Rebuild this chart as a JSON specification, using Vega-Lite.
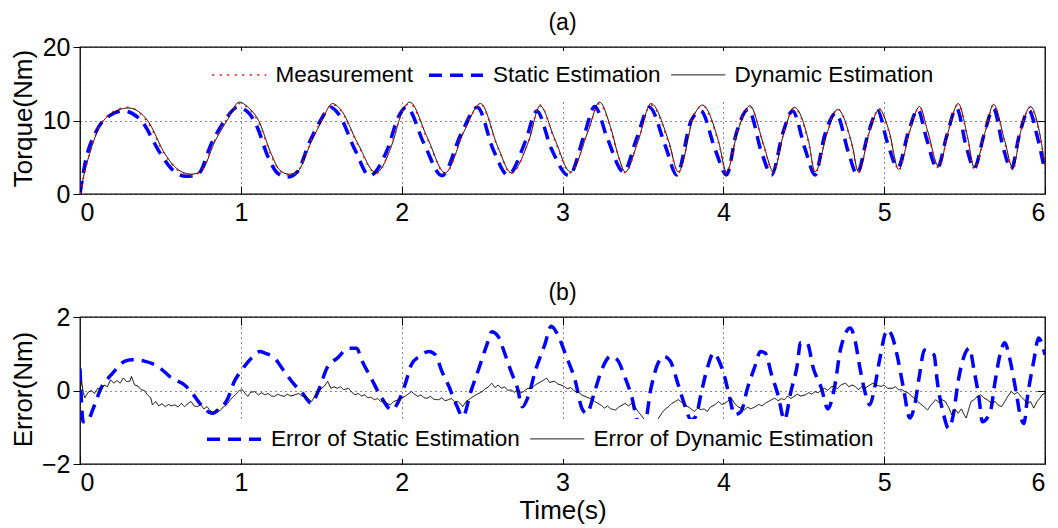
{
 "$schema": "https://vega.github.io/schema/vega-lite/v6.json",
 "background": "white",
 "padding": {"left": 9, "top": 11, "right": 6, "bottom": 2},
 "spacing": 55,
 "config": {
  "font": "Liberation Sans",
  "view": {"stroke": "black", "strokeWidth": 1.3},
  "axis": {"domain": false, "labelFontSize": 25, "titleFontSize": 26, "titleFontWeight": "normal", "labelColor": "black", "titleColor": "black", "tickColor": "black", "gridColor": "black", "gridDash": [1, 4], "gridOpacity": 0.9, "gridWidth": 1},
  "axisX": {"tickSize": -8, "labelPadding": 14},
  "axisY": {"tickSize": 7, "labelPadding": 3},
  "title": {"fontSize": 23, "fontWeight": "normal", "color": "black", "frame": "group"},
  "legend": {"labelFontSize": 22.5, "labelColor": "black", "labelLimit": 500, "symbolType": "M-2.7,0H2.7", "symbolSize": 400, "symbolOffset": 17, "labelOffset": 25, "columnPadding": 8, "fillColor": "white", "direction": "horizontal", "orient": "none", "title": null}
 },
 "resolve": {"scale": {"color": "independent", "strokeDash": "independent", "strokeWidth": "independent"}},
 "datasets": {
  "torque": [
   {"s":"Static Estimation","t":0,"v":0},{"s":"Static Estimation","t":0.03,"v":4.0},{"s":"Static Estimation","t":0.1,"v":8.5},{"s":"Static Estimation","t":0.18,"v":10.6},{"s":"Static Estimation","t":0.27,"v":11.3},{"s":"Static Estimation","t":0.38,"v":10.0},{"s":"Static Estimation","t":0.5,"v":5.5},{"s":"Static Estimation","t":0.58,"v":3.2},{"s":"Static Estimation","t":0.66,"v":2.4},{"s":"Static Estimation","t":0.73,"v":2.6},{"s":"Static Estimation","t":0.82,"v":7.0},{"s":"Static Estimation","t":0.9,"v":10.0},{"s":"Static Estimation","t":0.98,"v":11.8},{"s":"Static Estimation","t":1.05,"v":11.0},{"s":"Static Estimation","t":1.1,"v":9.2},{"s":"Static Estimation","t":1.17,"v":5.0},{"s":"Static Estimation","t":1.23,"v":2.8},{"s":"Static Estimation","t":1.29,"v":2.3},{"s":"Static Estimation","t":1.35,"v":3.0},{"s":"Static Estimation","t":1.43,"v":7.2},{"s":"Static Estimation","t":1.49,"v":9.8},{"s":"Static Estimation","t":1.56,"v":11.8},{"s":"Static Estimation","t":1.61,"v":10.8},{"s":"Static Estimation","t":1.71,"v":6.0},{"s":"Static Estimation","t":1.8,"v":2.5},{"s":"Static Estimation","t":1.91,"v":6.0},{"s":"Static Estimation","t":1.98,"v":10.5},{"s":"Static Estimation","t":2.03,"v":11.8},{"s":"Static Estimation","t":2.14,"v":6.8},{"s":"Static Estimation","t":2.25,"v":2.5},{"s":"Static Estimation","t":2.37,"v":8.2},{"s":"Static Estimation","t":2.47,"v":11.8},{"s":"Static Estimation","t":2.57,"v":6.0},{"s":"Static Estimation","t":2.66,"v":2.6},{"s":"Static Estimation","t":2.77,"v":7.2},{"s":"Static Estimation","t":2.84,"v":11.3},{"s":"Static Estimation","t":2.93,"v":6.2},{"s":"Static Estimation","t":3.04,"v":2.5},{"s":"Static Estimation","t":3.14,"v":8.4},{"s":"Static Estimation","t":3.2,"v":11.9},{"s":"Static Estimation","t":3.28,"v":7.5},{"s":"Static Estimation","t":3.38,"v":3.0},{"s":"Static Estimation","t":3.46,"v":7.5},{"s":"Static Estimation","t":3.54,"v":11.8},{"s":"Static Estimation","t":3.64,"v":6.5},{"s":"Static Estimation","t":3.71,"v":2.6},{"s":"Static Estimation","t":3.8,"v":10.0},{"s":"Static Estimation","t":3.86,"v":11.3},{"s":"Static Estimation","t":3.95,"v":6.0},{"s":"Static Estimation","t":4.02,"v":2.6},{"s":"Static Estimation","t":4.08,"v":8.2},{"s":"Static Estimation","t":4.155,"v":11.5},{"s":"Static Estimation","t":4.24,"v":5.5},{"s":"Static Estimation","t":4.3,"v":2.6},{"s":"Static Estimation","t":4.37,"v":8.3},{"s":"Static Estimation","t":4.43,"v":11.3},{"s":"Static Estimation","t":4.51,"v":6.0},{"s":"Static Estimation","t":4.57,"v":2.6},{"s":"Static Estimation","t":4.63,"v":8.0},{"s":"Static Estimation","t":4.7,"v":11.0},{"s":"Static Estimation","t":4.78,"v":5.5},{"s":"Static Estimation","t":4.83,"v":2.7},{"s":"Static Estimation","t":4.9,"v":8.2},{"s":"Static Estimation","t":4.96,"v":11.3},{"s":"Static Estimation","t":5.02,"v":7.0},{"s":"Static Estimation","t":5.085,"v":3.6},{"s":"Static Estimation","t":5.15,"v":8.4},{"s":"Static Estimation","t":5.21,"v":11.5},{"s":"Static Estimation","t":5.26,"v":7.8},{"s":"Static Estimation","t":5.33,"v":3.5},{"s":"Static Estimation","t":5.39,"v":8.0},{"s":"Static Estimation","t":5.45,"v":11.7},{"s":"Static Estimation","t":5.51,"v":6.5},{"s":"Static Estimation","t":5.56,"v":3.5},{"s":"Static Estimation","t":5.62,"v":8.0},{"s":"Static Estimation","t":5.68,"v":11.6},{"s":"Static Estimation","t":5.74,"v":6.3},{"s":"Static Estimation","t":5.79,"v":3.4},{"s":"Static Estimation","t":5.84,"v":8.0},{"s":"Static Estimation","t":5.9,"v":11.4},{"s":"Static Estimation","t":5.95,"v":8.0},{"s":"Static Estimation","t":6.0,"v":3.0},
   {"s":"Dynamic Estimation","t":0,"v":0},{"s":"Dynamic Estimation","t":0.03,"v":3.1},{"s":"Dynamic Estimation","t":0.06,"v":5.5},{"s":"Dynamic Estimation","t":0.11,"v":8.6},{"s":"Dynamic Estimation","t":0.2,"v":11.0},{"s":"Dynamic Estimation","t":0.3,"v":11.7},{"s":"Dynamic Estimation","t":0.42,"v":10.0},{"s":"Dynamic Estimation","t":0.53,"v":5.4},{"s":"Dynamic Estimation","t":0.6,"v":3.5},{"s":"Dynamic Estimation","t":0.69,"v":2.7},{"s":"Dynamic Estimation","t":0.75,"v":3.0},{"s":"Dynamic Estimation","t":0.84,"v":7.2},{"s":"Dynamic Estimation","t":0.92,"v":10.2},{"s":"Dynamic Estimation","t":0.99,"v":12.5},{"s":"Dynamic Estimation","t":1.04,"v":11.9},{"s":"Dynamic Estimation","t":1.11,"v":10.0},{"s":"Dynamic Estimation","t":1.19,"v":5.4},{"s":"Dynamic Estimation","t":1.24,"v":3.3},{"s":"Dynamic Estimation","t":1.3,"v":2.7},{"s":"Dynamic Estimation","t":1.35,"v":3.0},{"s":"Dynamic Estimation","t":1.44,"v":7.2},{"s":"Dynamic Estimation","t":1.5,"v":9.8},{"s":"Dynamic Estimation","t":1.57,"v":12.3},{"s":"Dynamic Estimation","t":1.62,"v":11.5},{"s":"Dynamic Estimation","t":1.73,"v":6.75},{"s":"Dynamic Estimation","t":1.84,"v":2.9},{"s":"Dynamic Estimation","t":1.94,"v":6.75},{"s":"Dynamic Estimation","t":2.0,"v":11.0},{"s":"Dynamic Estimation","t":2.05,"v":12.5},{"s":"Dynamic Estimation","t":2.16,"v":7.65},{"s":"Dynamic Estimation","t":2.27,"v":2.9},{"s":"Dynamic Estimation","t":2.39,"v":8.6},{"s":"Dynamic Estimation","t":2.49,"v":12.3},{"s":"Dynamic Estimation","t":2.6,"v":6.3},{"s":"Dynamic Estimation","t":2.68,"v":2.9},{"s":"Dynamic Estimation","t":2.79,"v":7.2},{"s":"Dynamic Estimation","t":2.86,"v":12.0},{"s":"Dynamic Estimation","t":2.95,"v":7.6},{"s":"Dynamic Estimation","t":3.05,"v":3.0},{"s":"Dynamic Estimation","t":3.16,"v":8.6},{"s":"Dynamic Estimation","t":3.23,"v":12.5},{"s":"Dynamic Estimation","t":3.3,"v":9.0},{"s":"Dynamic Estimation","t":3.35,"v":5.0},{"s":"Dynamic Estimation","t":3.39,"v":3.0},{"s":"Dynamic Estimation","t":3.47,"v":7.2},{"s":"Dynamic Estimation","t":3.55,"v":12.3},{"s":"Dynamic Estimation","t":3.66,"v":7.2},{"s":"Dynamic Estimation","t":3.72,"v":3.0},{"s":"Dynamic Estimation","t":3.82,"v":10.8},{"s":"Dynamic Estimation","t":3.87,"v":12.1},{"s":"Dynamic Estimation","t":3.97,"v":7.2},{"s":"Dynamic Estimation","t":4.02,"v":3.0},{"s":"Dynamic Estimation","t":4.09,"v":8.6},{"s":"Dynamic Estimation","t":4.165,"v":12.0},{"s":"Dynamic Estimation","t":4.25,"v":6.75},{"s":"Dynamic Estimation","t":4.31,"v":3.1},{"s":"Dynamic Estimation","t":4.38,"v":8.6},{"s":"Dynamic Estimation","t":4.44,"v":11.8},{"s":"Dynamic Estimation","t":4.53,"v":7.2},{"s":"Dynamic Estimation","t":4.57,"v":3.0},{"s":"Dynamic Estimation","t":4.65,"v":8.6},{"s":"Dynamic Estimation","t":4.71,"v":11.5},{"s":"Dynamic Estimation","t":4.8,"v":6.75},{"s":"Dynamic Estimation","t":4.84,"v":3.0},{"s":"Dynamic Estimation","t":4.91,"v":8.6},{"s":"Dynamic Estimation","t":4.97,"v":11.5},{"s":"Dynamic Estimation","t":5.03,"v":8.6},{"s":"Dynamic Estimation","t":5.09,"v":3.35},{"s":"Dynamic Estimation","t":5.16,"v":8.6},{"s":"Dynamic Estimation","t":5.22,"v":11.9},{"s":"Dynamic Estimation","t":5.27,"v":8.6},{"s":"Dynamic Estimation","t":5.34,"v":3.7},{"s":"Dynamic Estimation","t":5.4,"v":8.6},{"s":"Dynamic Estimation","t":5.46,"v":12.3},{"s":"Dynamic Estimation","t":5.52,"v":7.6},{"s":"Dynamic Estimation","t":5.56,"v":3.6},{"s":"Dynamic Estimation","t":5.63,"v":8.6},{"s":"Dynamic Estimation","t":5.68,"v":12.2},{"s":"Dynamic Estimation","t":5.75,"v":7.2},{"s":"Dynamic Estimation","t":5.8,"v":3.5},{"s":"Dynamic Estimation","t":5.85,"v":8.6},{"s":"Dynamic Estimation","t":5.91,"v":11.9},{"s":"Dynamic Estimation","t":5.96,"v":9.0},{"s":"Dynamic Estimation","t":6.0,"v":3.9},
   {"s":"Measurement","t":0,"v":0},{"s":"Measurement","t":0.03,"v":3.0},{"s":"Measurement","t":0.06,"v":5.6},{"s":"Measurement","t":0.11,"v":8.7},{"s":"Measurement","t":0.2,"v":11.1},{"s":"Measurement","t":0.3,"v":11.8},{"s":"Measurement","t":0.42,"v":9.8},{"s":"Measurement","t":0.53,"v":5.3},{"s":"Measurement","t":0.6,"v":3.4},{"s":"Measurement","t":0.68,"v":2.5},{"s":"Measurement","t":0.75,"v":3.0},{"s":"Measurement","t":0.84,"v":7.4},{"s":"Measurement","t":0.92,"v":10.4},{"s":"Measurement","t":0.99,"v":12.3},{"s":"Measurement","t":1.04,"v":11.8},{"s":"Measurement","t":1.11,"v":9.8},{"s":"Measurement","t":1.19,"v":5.2},{"s":"Measurement","t":1.24,"v":3.2},{"s":"Measurement","t":1.3,"v":2.6},{"s":"Measurement","t":1.35,"v":3.0},{"s":"Measurement","t":1.44,"v":7.3},{"s":"Measurement","t":1.5,"v":10.0},{"s":"Measurement","t":1.57,"v":12.2},{"s":"Measurement","t":1.62,"v":11.4},{"s":"Measurement","t":1.73,"v":6.6},{"s":"Measurement","t":1.84,"v":2.8},{"s":"Measurement","t":1.94,"v":6.9},{"s":"Measurement","t":2.0,"v":11.1},{"s":"Measurement","t":2.05,"v":12.3},{"s":"Measurement","t":2.16,"v":7.5},{"s":"Measurement","t":2.27,"v":2.8},{"s":"Measurement","t":2.39,"v":8.7},{"s":"Measurement","t":2.49,"v":12.2},{"s":"Measurement","t":2.6,"v":6.2},{"s":"Measurement","t":2.68,"v":2.8},{"s":"Measurement","t":2.79,"v":7.3},{"s":"Measurement","t":2.86,"v":12.1},{"s":"Measurement","t":2.95,"v":7.4},{"s":"Measurement","t":3.05,"v":2.9},{"s":"Measurement","t":3.16,"v":8.7},{"s":"Measurement","t":3.23,"v":12.3},{"s":"Measurement","t":3.3,"v":8.8},{"s":"Measurement","t":3.35,"v":4.9},{"s":"Measurement","t":3.39,"v":2.9},{"s":"Measurement","t":3.47,"v":7.3},{"s":"Measurement","t":3.55,"v":12.1},{"s":"Measurement","t":3.66,"v":7.0},{"s":"Measurement","t":3.72,"v":2.9},{"s":"Measurement","t":3.82,"v":10.9},{"s":"Measurement","t":3.87,"v":12.0},{"s":"Measurement","t":3.97,"v":7.0},{"s":"Measurement","t":4.02,"v":2.9},{"s":"Measurement","t":4.09,"v":8.7},{"s":"Measurement","t":4.165,"v":11.9},{"s":"Measurement","t":4.25,"v":6.6},{"s":"Measurement","t":4.31,"v":3.0},{"s":"Measurement","t":4.38,"v":8.7},{"s":"Measurement","t":4.44,"v":11.7},{"s":"Measurement","t":4.53,"v":7.0},{"s":"Measurement","t":4.57,"v":2.9},{"s":"Measurement","t":4.65,"v":8.7},{"s":"Measurement","t":4.71,"v":11.6},{"s":"Measurement","t":4.8,"v":6.6},{"s":"Measurement","t":4.84,"v":2.9},{"s":"Measurement","t":4.91,"v":8.7},{"s":"Measurement","t":4.97,"v":11.6},{"s":"Measurement","t":5.03,"v":8.4},{"s":"Measurement","t":5.09,"v":3.2},{"s":"Measurement","t":5.16,"v":8.7},{"s":"Measurement","t":5.22,"v":11.8},{"s":"Measurement","t":5.27,"v":8.4},{"s":"Measurement","t":5.34,"v":3.5},{"s":"Measurement","t":5.4,"v":8.7},{"s":"Measurement","t":5.46,"v":12.2},{"s":"Measurement","t":5.52,"v":7.4},{"s":"Measurement","t":5.56,"v":3.4},{"s":"Measurement","t":5.63,"v":8.7},{"s":"Measurement","t":5.68,"v":12.1},{"s":"Measurement","t":5.75,"v":7.0},{"s":"Measurement","t":5.8,"v":3.3},{"s":"Measurement","t":5.85,"v":8.7},{"s":"Measurement","t":5.91,"v":11.8},{"s":"Measurement","t":5.96,"v":8.8},{"s":"Measurement","t":6.0,"v":3.8}
  ],
  "error": [
   {"s":"Error of Static Estimation","t":0,"v":0.6},{"s":"Error of Static Estimation","t":0.02,"v":-0.85},{"s":"Error of Static Estimation","t":0.04,"v":-0.85},{"s":"Error of Static Estimation","t":0.09,"v":-0.4},{"s":"Error of Static Estimation","t":0.13,"v":0.06},{"s":"Error of Static Estimation","t":0.195,"v":0.43},{"s":"Error of Static Estimation","t":0.28,"v":0.8},{"s":"Error of Static Estimation","t":0.32,"v":0.84},{"s":"Error of Static Estimation","t":0.4,"v":0.8},{"s":"Error of Static Estimation","t":0.485,"v":0.65},{"s":"Error of Static Estimation","t":0.57,"v":0.34},{"s":"Error of Static Estimation","t":0.65,"v":0.15},{"s":"Error of Static Estimation","t":0.69,"v":-0.03},{"s":"Error of Static Estimation","t":0.755,"v":-0.4},{"s":"Error of Static Estimation","t":0.82,"v":-0.62},{"s":"Error of Static Estimation","t":0.86,"v":-0.53},{"s":"Error of Static Estimation","t":0.92,"v":-0.21},{"s":"Error of Static Estimation","t":0.96,"v":0.25},{"s":"Error of Static Estimation","t":1.0,"v":0.52},{"s":"Error of Static Estimation","t":1.065,"v":0.88},{"s":"Error of Static Estimation","t":1.12,"v":1.06},{"s":"Error of Static Estimation","t":1.15,"v":1.02},{"s":"Error of Static Estimation","t":1.21,"v":0.88},{"s":"Error of Static Estimation","t":1.27,"v":0.52},{"s":"Error of Static Estimation","t":1.335,"v":0.15},{"s":"Error of Static Estimation","t":1.376,"v":-0.03},{"s":"Error of Static Estimation","t":1.44,"v":-0.35},{"s":"Error of Static Estimation","t":1.48,"v":-0.03},{"s":"Error of Static Estimation","t":1.54,"v":0.65},{"s":"Error of Static Estimation","t":1.6,"v":0.88},{"s":"Error of Static Estimation","t":1.67,"v":1.15},{"s":"Error of Static Estimation","t":1.72,"v":1.15},{"s":"Error of Static Estimation","t":1.75,"v":0.84},{"s":"Error of Static Estimation","t":1.81,"v":0.34},{"s":"Error of Static Estimation","t":1.87,"v":-0.16},{"s":"Error of Static Estimation","t":1.94,"v":-0.53},{"s":"Error of Static Estimation","t":1.98,"v":-0.3},{"s":"Error of Static Estimation","t":2.02,"v":0.15},{"s":"Error of Static Estimation","t":2.06,"v":0.7},{"s":"Error of Static Estimation","t":2.11,"v":0.93},{"s":"Error of Static Estimation","t":2.17,"v":1.06},{"s":"Error of Static Estimation","t":2.21,"v":0.97},{"s":"Error of Static Estimation","t":2.25,"v":0.52},{"s":"Error of Static Estimation","t":2.29,"v":0.15},{"s":"Error of Static Estimation","t":2.34,"v":-0.39},{"s":"Error of Static Estimation","t":2.38,"v":-0.71},{"s":"Error of Static Estimation","t":2.43,"v":-0.03},{"s":"Error of Static Estimation","t":2.48,"v":0.6},{"s":"Error of Static Estimation","t":2.53,"v":1.25},{"s":"Error of Static Estimation","t":2.56,"v":1.6},{"s":"Error of Static Estimation","t":2.6,"v":1.47},{"s":"Error of Static Estimation","t":2.64,"v":1.02},{"s":"Error of Static Estimation","t":2.68,"v":0.52},{"s":"Error of Static Estimation","t":2.72,"v":0.06},{"s":"Error of Static Estimation","t":2.75,"v":-0.44},{"s":"Error of Static Estimation","t":2.79,"v":-0.12},{"s":"Error of Static Estimation","t":2.83,"v":0.52},{"s":"Error of Static Estimation","t":2.89,"v":1.25},{"s":"Error of Static Estimation","t":2.93,"v":1.75},{"s":"Error of Static Estimation","t":2.97,"v":1.52},{"s":"Error of Static Estimation","t":3.02,"v":0.97},{"s":"Error of Static Estimation","t":3.08,"v":0.25},{"s":"Error of Static Estimation","t":3.12,"v":-0.48},{"s":"Error of Static Estimation","t":3.15,"v":-0.62},{"s":"Error of Static Estimation","t":3.2,"v":-0.03},{"s":"Error of Static Estimation","t":3.24,"v":0.52},{"s":"Error of Static Estimation","t":3.3,"v":0.93},{"s":"Error of Static Estimation","t":3.34,"v":0.84},{"s":"Error of Static Estimation","t":3.39,"v":0.34},{"s":"Error of Static Estimation","t":3.43,"v":-0.16},{"s":"Error of Static Estimation","t":3.47,"v":-0.85},{"s":"Error of Static Estimation","t":3.51,"v":-0.9},{"s":"Error of Static Estimation","t":3.55,"v":0.06},{"s":"Error of Static Estimation","t":3.59,"v":0.7},{"s":"Error of Static Estimation","t":3.63,"v":0.93},{"s":"Error of Static Estimation","t":3.67,"v":0.8},{"s":"Error of Static Estimation","t":3.72,"v":0.15},{"s":"Error of Static Estimation","t":3.76,"v":-0.4},{"s":"Error of Static Estimation","t":3.8,"v":-0.8},{"s":"Error of Static Estimation","t":3.83,"v":-0.7},{"s":"Error of Static Estimation","t":3.86,"v":-0.12},{"s":"Error of Static Estimation","t":3.9,"v":0.6},{"s":"Error of Static Estimation","t":3.94,"v":1.02},{"s":"Error of Static Estimation","t":3.97,"v":0.84},{"s":"Error of Static Estimation","t":4.01,"v":0.34},{"s":"Error of Static Estimation","t":4.04,"v":-0.21},{"s":"Error of Static Estimation","t":4.07,"v":-0.66},{"s":"Error of Static Estimation","t":4.11,"v":-0.57},{"s":"Error of Static Estimation","t":4.15,"v":0.06},{"s":"Error of Static Estimation","t":4.2,"v":0.7},{"s":"Error of Static Estimation","t":4.23,"v":1.06},{"s":"Error of Static Estimation","t":4.26,"v":1.02},{"s":"Error of Static Estimation","t":4.3,"v":0.43},{"s":"Error of Static Estimation","t":4.34,"v":-0.12},{"s":"Error of Static Estimation","t":4.38,"v":-0.8},{"s":"Error of Static Estimation","t":4.42,"v":-0.03},{"s":"Error of Static Estimation","t":4.46,"v":0.7},{"s":"Error of Static Estimation","t":4.48,"v":1.3},{"s":"Error of Static Estimation","t":4.52,"v":1.3},{"s":"Error of Static Estimation","t":4.56,"v":0.6},{"s":"Error of Static Estimation","t":4.61,"v":0.06},{"s":"Error of Static Estimation","t":4.65,"v":-0.5},{"s":"Error of Static Estimation","t":4.69,"v":0.06},{"s":"Error of Static Estimation","t":4.73,"v":1.15},{"s":"Error of Static Estimation","t":4.79,"v":1.7},{"s":"Error of Static Estimation","t":4.82,"v":1.34},{"s":"Error of Static Estimation","t":4.85,"v":0.6},{"s":"Error of Static Estimation","t":4.88,"v":-0.03},{"s":"Error of Static Estimation","t":4.91,"v":-0.39},{"s":"Error of Static Estimation","t":4.94,"v":0.06},{"s":"Error of Static Estimation","t":4.97,"v":0.8},{"s":"Error of Static Estimation","t":5.02,"v":1.65},{"s":"Error of Static Estimation","t":5.05,"v":1.47},{"s":"Error of Static Estimation","t":5.08,"v":0.97},{"s":"Error of Static Estimation","t":5.12,"v":0.06},{"s":"Error of Static Estimation","t":5.16,"v":-0.75},{"s":"Error of Static Estimation","t":5.19,"v":-0.39},{"s":"Error of Static Estimation","t":5.22,"v":0.43},{"s":"Error of Static Estimation","t":5.25,"v":1.1},{"s":"Error of Static Estimation","t":5.31,"v":0.97},{"s":"Error of Static Estimation","t":5.33,"v":0.25},{"s":"Error of Static Estimation","t":5.37,"v":-0.66},{"s":"Error of Static Estimation","t":5.4,"v":-1.03},{"s":"Error of Static Estimation","t":5.43,"v":-0.66},{"s":"Error of Static Estimation","t":5.46,"v":0.25},{"s":"Error of Static Estimation","t":5.5,"v":0.97},{"s":"Error of Static Estimation","t":5.53,"v":1.15},{"s":"Error of Static Estimation","t":5.56,"v":0.52},{"s":"Error of Static Estimation","t":5.59,"v":-0.21},{"s":"Error of Static Estimation","t":5.61,"v":-0.85},{"s":"Error of Static Estimation","t":5.66,"v":-0.57},{"s":"Error of Static Estimation","t":5.69,"v":0.25},{"s":"Error of Static Estimation","t":5.72,"v":0.97},{"s":"Error of Static Estimation","t":5.75,"v":1.3},{"s":"Error of Static Estimation","t":5.78,"v":0.88},{"s":"Error of Static Estimation","t":5.82,"v":-0.03},{"s":"Error of Static Estimation","t":5.85,"v":-0.75},{"s":"Error of Static Estimation","t":5.87,"v":-0.9},{"s":"Error of Static Estimation","t":5.89,"v":-0.21},{"s":"Error of Static Estimation","t":5.93,"v":0.8},{"s":"Error of Static Estimation","t":5.96,"v":1.43},{"s":"Error of Static Estimation","t":6.0,"v":0.97},
   {"s":"Error of Dynamic Estimation","t":0,"v":0},{"s":"Error of Dynamic Estimation","t":0.01,"v":0.25},{"s":"Error of Dynamic Estimation","t":0.02,"v":-0.05},{"s":"Error of Dynamic Estimation","t":0.03,"v":-0.2},{"s":"Error of Dynamic Estimation","t":0.05,"v":-0.05},{"s":"Error of Dynamic Estimation","t":0.07,"v":0},{"s":"Error of Dynamic Estimation","t":0.09,"v":-0.08},{"s":"Error of Dynamic Estimation","t":0.11,"v":0.06},{"s":"Error of Dynamic Estimation","t":0.13,"v":0.02},{"s":"Error of Dynamic Estimation","t":0.15,"v":0.15},{"s":"Error of Dynamic Estimation","t":0.17,"v":0.1},{"s":"Error of Dynamic Estimation","t":0.19,"v":0.29},{"s":"Error of Dynamic Estimation","t":0.21,"v":0.2},{"s":"Error of Dynamic Estimation","t":0.23,"v":0.27},{"s":"Error of Dynamic Estimation","t":0.25,"v":0.2},{"s":"Error of Dynamic Estimation","t":0.27,"v":0.34},{"s":"Error of Dynamic Estimation","t":0.29,"v":0.24},{"s":"Error of Dynamic Estimation","t":0.31,"v":0.25},{"s":"Error of Dynamic Estimation","t":0.32,"v":0.38},{"s":"Error of Dynamic Estimation","t":0.34,"v":0.15},{"s":"Error of Dynamic Estimation","t":0.36,"v":0.12},{"s":"Error of Dynamic Estimation","t":0.38,"v":0.02},{"s":"Error of Dynamic Estimation","t":0.4,"v":0},{"s":"Error of Dynamic Estimation","t":0.42,"v":-0.12},{"s":"Error of Dynamic Estimation","t":0.44,"v":-0.2},{"s":"Error of Dynamic Estimation","t":0.45,"v":-0.39},{"s":"Error of Dynamic Estimation","t":0.47,"v":-0.3},{"s":"Error of Dynamic Estimation","t":0.49,"v":-0.42},{"s":"Error of Dynamic Estimation","t":0.51,"v":-0.36},{"s":"Error of Dynamic Estimation","t":0.53,"v":-0.44},{"s":"Error of Dynamic Estimation","t":0.55,"v":-0.38},{"s":"Error of Dynamic Estimation","t":0.57,"v":-0.42},{"s":"Error of Dynamic Estimation","t":0.59,"v":-0.39},{"s":"Error of Dynamic Estimation","t":0.61,"v":-0.45},{"s":"Error of Dynamic Estimation","t":0.63,"v":-0.35},{"s":"Error of Dynamic Estimation","t":0.65,"v":-0.44},{"s":"Error of Dynamic Estimation","t":0.67,"v":-0.36},{"s":"Error of Dynamic Estimation","t":0.69,"v":-0.3},{"s":"Error of Dynamic Estimation","t":0.71,"v":-0.42},{"s":"Error of Dynamic Estimation","t":0.73,"v":-0.44},{"s":"Error of Dynamic Estimation","t":0.75,"v":-0.38},{"s":"Error of Dynamic Estimation","t":0.77,"v":-0.5},{"s":"Error of Dynamic Estimation","t":0.79,"v":-0.44},{"s":"Error of Dynamic Estimation","t":0.81,"v":-0.55},{"s":"Error of Dynamic Estimation","t":0.83,"v":-0.6},{"s":"Error of Dynamic Estimation","t":0.85,"v":-0.5},{"s":"Error of Dynamic Estimation","t":0.87,"v":-0.55},{"s":"Error of Dynamic Estimation","t":0.89,"v":-0.45},{"s":"Error of Dynamic Estimation","t":0.91,"v":-0.4},{"s":"Error of Dynamic Estimation","t":0.93,"v":-0.28},{"s":"Error of Dynamic Estimation","t":0.95,"v":-0.18},{"s":"Error of Dynamic Estimation","t":0.97,"v":-0.1},{"s":"Error of Dynamic Estimation","t":0.99,"v":0},{"s":"Error of Dynamic Estimation","t":1.01,"v":0.02},{"s":"Error of Dynamic Estimation","t":1.03,"v":-0.1},{"s":"Error of Dynamic Estimation","t":1.045,"v":-0.16},{"s":"Error of Dynamic Estimation","t":1.06,"v":-0.05},{"s":"Error of Dynamic Estimation","t":1.086,"v":-0.03},{"s":"Error of Dynamic Estimation","t":1.11,"v":-0.12},{"s":"Error of Dynamic Estimation","t":1.13,"v":-0.06},{"s":"Error of Dynamic Estimation","t":1.15,"v":-0.12},{"s":"Error of Dynamic Estimation","t":1.17,"v":-0.08},{"s":"Error of Dynamic Estimation","t":1.19,"v":-0.15},{"s":"Error of Dynamic Estimation","t":1.21,"v":-0.16},{"s":"Error of Dynamic Estimation","t":1.23,"v":-0.1},{"s":"Error of Dynamic Estimation","t":1.25,"v":-0.14},{"s":"Error of Dynamic Estimation","t":1.27,"v":-0.16},{"s":"Error of Dynamic Estimation","t":1.29,"v":-0.1},{"s":"Error of Dynamic Estimation","t":1.31,"v":-0.15},{"s":"Error of Dynamic Estimation","t":1.335,"v":-0.12},{"s":"Error of Dynamic Estimation","t":1.36,"v":-0.08},{"s":"Error of Dynamic Estimation","t":1.38,"v":-0.15},{"s":"Error of Dynamic Estimation","t":1.4,"v":-0.16},{"s":"Error of Dynamic Estimation","t":1.42,"v":-0.22},{"s":"Error of Dynamic Estimation","t":1.44,"v":-0.3},{"s":"Error of Dynamic Estimation","t":1.46,"v":-0.15},{"s":"Error of Dynamic Estimation","t":1.48,"v":-0.03},{"s":"Error of Dynamic Estimation","t":1.5,"v":0.05},{"s":"Error of Dynamic Estimation","t":1.52,"v":0.12},{"s":"Error of Dynamic Estimation","t":1.54,"v":0.25},{"s":"Error of Dynamic Estimation","t":1.56,"v":0.06},{"s":"Error of Dynamic Estimation","t":1.58,"v":0.1},{"s":"Error of Dynamic Estimation","t":1.6,"v":0.06},{"s":"Error of Dynamic Estimation","t":1.62,"v":0.1},{"s":"Error of Dynamic Estimation","t":1.64,"v":0.02},{"s":"Error of Dynamic Estimation","t":1.67,"v":0.06},{"s":"Error of Dynamic Estimation","t":1.69,"v":-0.05},{"s":"Error of Dynamic Estimation","t":1.71,"v":-0.12},{"s":"Error of Dynamic Estimation","t":1.73,"v":-0.08},{"s":"Error of Dynamic Estimation","t":1.75,"v":-0.15},{"s":"Error of Dynamic Estimation","t":1.77,"v":-0.12},{"s":"Error of Dynamic Estimation","t":1.79,"v":-0.2},{"s":"Error of Dynamic Estimation","t":1.81,"v":-0.18},{"s":"Error of Dynamic Estimation","t":1.83,"v":-0.25},{"s":"Error of Dynamic Estimation","t":1.85,"v":-0.22},{"s":"Error of Dynamic Estimation","t":1.87,"v":-0.3},{"s":"Error of Dynamic Estimation","t":1.89,"v":-0.26},{"s":"Error of Dynamic Estimation","t":1.91,"v":-0.35},{"s":"Error of Dynamic Estimation","t":1.93,"v":-0.39},{"s":"Error of Dynamic Estimation","t":1.95,"v":-0.3},{"s":"Error of Dynamic Estimation","t":1.98,"v":-0.25},{"s":"Error of Dynamic Estimation","t":2.0,"v":-0.2},{"s":"Error of Dynamic Estimation","t":2.02,"v":-0.16},{"s":"Error of Dynamic Estimation","t":2.04,"v":-0.1},{"s":"Error of Dynamic Estimation","t":2.06,"v":-0.03},{"s":"Error of Dynamic Estimation","t":2.08,"v":-0.1},{"s":"Error of Dynamic Estimation","t":2.1,"v":-0.16},{"s":"Error of Dynamic Estimation","t":2.12,"v":-0.12},{"s":"Error of Dynamic Estimation","t":2.14,"v":-0.2},{"s":"Error of Dynamic Estimation","t":2.16,"v":-0.21},{"s":"Error of Dynamic Estimation","t":2.18,"v":-0.16},{"s":"Error of Dynamic Estimation","t":2.2,"v":-0.24},{"s":"Error of Dynamic Estimation","t":2.23,"v":-0.25},{"s":"Error of Dynamic Estimation","t":2.25,"v":-0.2},{"s":"Error of Dynamic Estimation","t":2.27,"v":-0.28},{"s":"Error of Dynamic Estimation","t":2.29,"v":-0.25},{"s":"Error of Dynamic Estimation","t":2.31,"v":-0.22},{"s":"Error of Dynamic Estimation","t":2.33,"v":-0.3},{"s":"Error of Dynamic Estimation","t":2.35,"v":-0.3},{"s":"Error of Dynamic Estimation","t":2.37,"v":-0.38},{"s":"Error of Dynamic Estimation","t":2.38,"v":-0.44},{"s":"Error of Dynamic Estimation","t":2.4,"v":-0.3},{"s":"Error of Dynamic Estimation","t":2.43,"v":-0.21},{"s":"Error of Dynamic Estimation","t":2.45,"v":-0.15},{"s":"Error of Dynamic Estimation","t":2.47,"v":-0.1},{"s":"Error of Dynamic Estimation","t":2.5,"v":-0.03},{"s":"Error of Dynamic Estimation","t":2.52,"v":0.05},{"s":"Error of Dynamic Estimation","t":2.54,"v":0.1},{"s":"Error of Dynamic Estimation","t":2.56,"v":0.2},{"s":"Error of Dynamic Estimation","t":2.58,"v":0.08},{"s":"Error of Dynamic Estimation","t":2.6,"v":0.15},{"s":"Error of Dynamic Estimation","t":2.62,"v":0.06},{"s":"Error of Dynamic Estimation","t":2.64,"v":0.1},{"s":"Error of Dynamic Estimation","t":2.66,"v":0},{"s":"Error of Dynamic Estimation","t":2.68,"v":0.02},{"s":"Error of Dynamic Estimation","t":2.7,"v":-0.05},{"s":"Error of Dynamic Estimation","t":2.72,"v":0.02},{"s":"Error of Dynamic Estimation","t":2.74,"v":-0.07},{"s":"Error of Dynamic Estimation","t":2.76,"v":-0.02},{"s":"Error of Dynamic Estimation","t":2.78,"v":0.05},{"s":"Error of Dynamic Estimation","t":2.81,"v":0.06},{"s":"Error of Dynamic Estimation","t":2.83,"v":0.15},{"s":"Error of Dynamic Estimation","t":2.85,"v":0.2},{"s":"Error of Dynamic Estimation","t":2.87,"v":0.25},{"s":"Error of Dynamic Estimation","t":2.89,"v":0.3},{"s":"Error of Dynamic Estimation","t":2.9,"v":0.34},{"s":"Error of Dynamic Estimation","t":2.92,"v":0.22},{"s":"Error of Dynamic Estimation","t":2.95,"v":0.25},{"s":"Error of Dynamic Estimation","t":2.97,"v":0.18},{"s":"Error of Dynamic Estimation","t":2.99,"v":0.15},{"s":"Error of Dynamic Estimation","t":3.01,"v":0.11},{"s":"Error of Dynamic Estimation","t":3.03,"v":0.05},{"s":"Error of Dynamic Estimation","t":3.05,"v":0.08},{"s":"Error of Dynamic Estimation","t":3.08,"v":-0.03},{"s":"Error of Dynamic Estimation","t":3.1,"v":-0.05},{"s":"Error of Dynamic Estimation","t":3.12,"v":-0.12},{"s":"Error of Dynamic Estimation","t":3.14,"v":-0.16},{"s":"Error of Dynamic Estimation","t":3.16,"v":-0.2},{"s":"Error of Dynamic Estimation","t":3.18,"v":-0.22},{"s":"Error of Dynamic Estimation","t":3.2,"v":-0.3},{"s":"Error of Dynamic Estimation","t":3.22,"v":-0.35},{"s":"Error of Dynamic Estimation","t":3.24,"v":-0.4},{"s":"Error of Dynamic Estimation","t":3.26,"v":-0.48},{"s":"Error of Dynamic Estimation","t":3.28,"v":-0.42},{"s":"Error of Dynamic Estimation","t":3.3,"v":-0.5},{"s":"Error of Dynamic Estimation","t":3.33,"v":-0.53},{"s":"Error of Dynamic Estimation","t":3.35,"v":-0.45},{"s":"Error of Dynamic Estimation","t":3.37,"v":-0.4},{"s":"Error of Dynamic Estimation","t":3.39,"v":-0.35},{"s":"Error of Dynamic Estimation","t":3.41,"v":-0.42},{"s":"Error of Dynamic Estimation","t":3.43,"v":-0.35},{"s":"Error of Dynamic Estimation","t":3.45,"v":-0.45},{"s":"Error of Dynamic Estimation","t":3.47,"v":-0.57},{"s":"Error of Dynamic Estimation","t":3.49,"v":-0.68},{"s":"Error of Dynamic Estimation","t":3.51,"v":-0.8},{"s":"Error of Dynamic Estimation","t":3.55,"v":-0.85},{"s":"Error of Dynamic Estimation","t":3.59,"v":-0.8},{"s":"Error of Dynamic Estimation","t":3.62,"v":-0.6},{"s":"Error of Dynamic Estimation","t":3.64,"v":-0.5},{"s":"Error of Dynamic Estimation","t":3.66,"v":-0.44},{"s":"Error of Dynamic Estimation","t":3.68,"v":-0.35},{"s":"Error of Dynamic Estimation","t":3.7,"v":-0.3},{"s":"Error of Dynamic Estimation","t":3.72,"v":-0.25},{"s":"Error of Dynamic Estimation","t":3.74,"v":-0.32},{"s":"Error of Dynamic Estimation","t":3.76,"v":-0.39},{"s":"Error of Dynamic Estimation","t":3.78,"v":-0.44},{"s":"Error of Dynamic Estimation","t":3.8,"v":-0.5},{"s":"Error of Dynamic Estimation","t":3.82,"v":-0.57},{"s":"Error of Dynamic Estimation","t":3.84,"v":-0.48},{"s":"Error of Dynamic Estimation","t":3.86,"v":-0.52},{"s":"Error of Dynamic Estimation","t":3.88,"v":-0.5},{"s":"Error of Dynamic Estimation","t":3.9,"v":-0.57},{"s":"Error of Dynamic Estimation","t":3.92,"v":-0.45},{"s":"Error of Dynamic Estimation","t":3.95,"v":-0.38},{"s":"Error of Dynamic Estimation","t":3.97,"v":-0.3},{"s":"Error of Dynamic Estimation","t":3.99,"v":-0.38},{"s":"Error of Dynamic Estimation","t":4.01,"v":-0.35},{"s":"Error of Dynamic Estimation","t":4.03,"v":-0.28},{"s":"Error of Dynamic Estimation","t":4.05,"v":-0.21},{"s":"Error of Dynamic Estimation","t":4.07,"v":-0.35},{"s":"Error of Dynamic Estimation","t":4.09,"v":-0.44},{"s":"Error of Dynamic Estimation","t":4.11,"v":-0.48},{"s":"Error of Dynamic Estimation","t":4.13,"v":-0.53},{"s":"Error of Dynamic Estimation","t":4.15,"v":-0.45},{"s":"Error of Dynamic Estimation","t":4.17,"v":-0.5},{"s":"Error of Dynamic Estimation","t":4.2,"v":-0.44},{"s":"Error of Dynamic Estimation","t":4.22,"v":-0.38},{"s":"Error of Dynamic Estimation","t":4.24,"v":-0.42},{"s":"Error of Dynamic Estimation","t":4.26,"v":-0.35},{"s":"Error of Dynamic Estimation","t":4.28,"v":-0.3},{"s":"Error of Dynamic Estimation","t":4.3,"v":-0.25},{"s":"Error of Dynamic Estimation","t":4.32,"v":-0.21},{"s":"Error of Dynamic Estimation","t":4.34,"v":-0.28},{"s":"Error of Dynamic Estimation","t":4.36,"v":-0.22},{"s":"Error of Dynamic Estimation","t":4.38,"v":-0.25},{"s":"Error of Dynamic Estimation","t":4.4,"v":-0.15},{"s":"Error of Dynamic Estimation","t":4.42,"v":-0.22},{"s":"Error of Dynamic Estimation","t":4.44,"v":-0.16},{"s":"Error of Dynamic Estimation","t":4.46,"v":-0.1},{"s":"Error of Dynamic Estimation","t":4.48,"v":-0.15},{"s":"Error of Dynamic Estimation","t":4.51,"v":-0.12},{"s":"Error of Dynamic Estimation","t":4.53,"v":-0.06},{"s":"Error of Dynamic Estimation","t":4.55,"v":-0.1},{"s":"Error of Dynamic Estimation","t":4.57,"v":-0.03},{"s":"Error of Dynamic Estimation","t":4.59,"v":-0.06},{"s":"Error of Dynamic Estimation","t":4.61,"v":0.02},{"s":"Error of Dynamic Estimation","t":4.63,"v":0.06},{"s":"Error of Dynamic Estimation","t":4.65,"v":0},{"s":"Error of Dynamic Estimation","t":4.67,"v":0.1},{"s":"Error of Dynamic Estimation","t":4.69,"v":0.11},{"s":"Error of Dynamic Estimation","t":4.71,"v":0.05},{"s":"Error of Dynamic Estimation","t":4.73,"v":0.15},{"s":"Error of Dynamic Estimation","t":4.76,"v":0.2},{"s":"Error of Dynamic Estimation","t":4.78,"v":0.1},{"s":"Error of Dynamic Estimation","t":4.8,"v":0.15},{"s":"Error of Dynamic Estimation","t":4.82,"v":0.11},{"s":"Error of Dynamic Estimation","t":4.84,"v":0.02},{"s":"Error of Dynamic Estimation","t":4.86,"v":0.1},{"s":"Error of Dynamic Estimation","t":4.88,"v":0.06},{"s":"Error of Dynamic Estimation","t":4.9,"v":0.12},{"s":"Error of Dynamic Estimation","t":4.93,"v":0.2},{"s":"Error of Dynamic Estimation","t":4.95,"v":0.15},{"s":"Error of Dynamic Estimation","t":4.98,"v":0.11},{"s":"Error of Dynamic Estimation","t":5.0,"v":0.15},{"s":"Error of Dynamic Estimation","t":5.02,"v":0.06},{"s":"Error of Dynamic Estimation","t":5.05,"v":0.06},{"s":"Error of Dynamic Estimation","t":5.07,"v":0.1},{"s":"Error of Dynamic Estimation","t":5.09,"v":0.02},{"s":"Error of Dynamic Estimation","t":5.11,"v":0.02},{"s":"Error of Dynamic Estimation","t":5.13,"v":-0.03},{"s":"Error of Dynamic Estimation","t":5.15,"v":-0.07},{"s":"Error of Dynamic Estimation","t":5.17,"v":-0.15},{"s":"Error of Dynamic Estimation","t":5.19,"v":-0.22},{"s":"Error of Dynamic Estimation","t":5.21,"v":-0.3},{"s":"Error of Dynamic Estimation","t":5.23,"v":-0.38},{"s":"Error of Dynamic Estimation","t":5.25,"v":-0.45},{"s":"Error of Dynamic Estimation","t":5.27,"v":-0.53},{"s":"Error of Dynamic Estimation","t":5.29,"v":-0.4},{"s":"Error of Dynamic Estimation","t":5.32,"v":-0.25},{"s":"Error of Dynamic Estimation","t":5.34,"v":-0.32},{"s":"Error of Dynamic Estimation","t":5.36,"v":-0.25},{"s":"Error of Dynamic Estimation","t":5.38,"v":-0.3},{"s":"Error of Dynamic Estimation","t":5.4,"v":-0.45},{"s":"Error of Dynamic Estimation","t":5.42,"v":-0.66},{"s":"Error of Dynamic Estimation","t":5.44,"v":-0.5},{"s":"Error of Dynamic Estimation","t":5.46,"v":-0.62},{"s":"Error of Dynamic Estimation","t":5.48,"v":-0.5},{"s":"Error of Dynamic Estimation","t":5.5,"v":-0.68},{"s":"Error of Dynamic Estimation","t":5.51,"v":-0.75},{"s":"Error of Dynamic Estimation","t":5.53,"v":-0.45},{"s":"Error of Dynamic Estimation","t":5.54,"v":-0.3},{"s":"Error of Dynamic Estimation","t":5.56,"v":-0.25},{"s":"Error of Dynamic Estimation","t":5.58,"v":-0.15},{"s":"Error of Dynamic Estimation","t":5.6,"v":-0.12},{"s":"Error of Dynamic Estimation","t":5.62,"v":-0.2},{"s":"Error of Dynamic Estimation","t":5.64,"v":-0.25},{"s":"Error of Dynamic Estimation","t":5.67,"v":-0.35},{"s":"Error of Dynamic Estimation","t":5.69,"v":-0.3},{"s":"Error of Dynamic Estimation","t":5.71,"v":-0.4},{"s":"Error of Dynamic Estimation","t":5.73,"v":-0.44},{"s":"Error of Dynamic Estimation","t":5.75,"v":-0.3},{"s":"Error of Dynamic Estimation","t":5.77,"v":-0.15},{"s":"Error of Dynamic Estimation","t":5.79,"v":-0.03},{"s":"Error of Dynamic Estimation","t":5.81,"v":-0.1},{"s":"Error of Dynamic Estimation","t":5.83,"v":-0.05},{"s":"Error of Dynamic Estimation","t":5.85,"v":-0.16},{"s":"Error of Dynamic Estimation","t":5.87,"v":-0.25},{"s":"Error of Dynamic Estimation","t":5.89,"v":-0.35},{"s":"Error of Dynamic Estimation","t":5.91,"v":-0.3},{"s":"Error of Dynamic Estimation","t":5.93,"v":-0.48},{"s":"Error of Dynamic Estimation","t":5.95,"v":-0.3},{"s":"Error of Dynamic Estimation","t":5.97,"v":-0.2},{"s":"Error of Dynamic Estimation","t":5.98,"v":-0.12},{"s":"Error of Dynamic Estimation","t":6.0,"v":-0.07}
  ]
 },
 "vconcat": [
  {
   "width": 965, "height": 147,
   "title": {"text": "(a)", "offset": 0},
   "data": {"name": "torque"},
   "resolve": {"axis": {"x": "independent", "y": "independent"}},
   "layer": [
    {
     "mark": {"type": "line", "interpolate": "monotone", "clip": true},
     "encoding": {
      "x": {"field": "t", "type": "quantitative", "scale": {"domain": [0, 6], "nice": false, "zero": false}, "axis": {"values": [0,1,2,3,4,5,6], "title": null, "grid": true}},
      "y": {"field": "v", "type": "quantitative", "scale": {"domain": [0, 20], "nice": false}, "axis": {"values": [0,10,20], "title": "Torque(Nm)", "grid": true, "titleX": -57, "titleY": 71, "titleAngle": -90, "titleAlign": "center", "titleBaseline": "middle"}},
      "color": {"field": "s", "type": "nominal", "sort": null, "scale": {"domain": ["Measurement","Static Estimation","Dynamic Estimation"], "range": ["#ff0000","#0000ff","#000000"]}, "legend": {"legendX": 119, "legendY": 4, "padding": 12}},
      "strokeDash": {"field": "s", "type": "nominal", "sort": null, "scale": {"domain": ["Measurement","Static Estimation","Dynamic Estimation"], "range": [[2,5.5],[13,8],[1,0]]}},
      "strokeWidth": {"field": "s", "type": "nominal", "sort": null, "scale": {"type": "ordinal", "domain": ["Measurement","Static Estimation","Dynamic Estimation"], "range": [1.5,3.5,1]}}
     }
    },
    {
     "mark": {"type": "line", "opacity": 0},
     "encoding": {
      "x": {"field": "t", "type": "quantitative", "axis": {"orient": "top", "values": [1,2,3,4,5], "labels": false, "title": null, "grid": false, "tickSize": -8}},
      "y": {"field": "v", "type": "quantitative", "axis": {"orient": "right", "values": [10], "labels": false, "title": null, "grid": false, "tickSize": -8}}
     }
    }
   ]
  },
  {
   "width": 965, "height": 147,
   "title": {"text": "(b)", "offset": 0},
   "data": {"name": "error"},
   "resolve": {"axis": {"x": "independent", "y": "independent"}},
   "layer": [
    {
     "encoding": {
      "x": {"field": "t", "type": "quantitative", "scale": {"domain": [0, 6], "nice": false, "zero": false}, "axis": {"values": [0,1,2,3,4,5,6], "title": "Time(s)", "grid": true, "titlePadding": 2}},
      "y": {"field": "v", "type": "quantitative", "scale": {"domain": [-2, 2], "nice": false}, "axis": {"values": [-2,0,2], "title": "Error(Nm)", "grid": true, "titleX": -57, "titleY": 72, "titleAngle": -90, "titleAlign": "center", "titleBaseline": "middle"}},
      "color": {"field": "s", "type": "nominal", "sort": null, "scale": {"domain": ["Error of Static Estimation","Error of Dynamic Estimation"], "range": ["#0000ff","#000000"]}, "legend": {"legendX": 117, "legendY": 102, "padding": 8}},
      "strokeDash": {"field": "s", "type": "nominal", "sort": null, "scale": {"domain": ["Error of Static Estimation","Error of Dynamic Estimation"], "range": [[13,8],[1,0]]}},
      "strokeWidth": {"field": "s", "type": "nominal", "sort": null, "scale": {"type": "ordinal", "domain": ["Error of Static Estimation","Error of Dynamic Estimation"], "range": [3.5,1]}}
     },
     "layer": [
      {"transform": [{"filter": "datum.s === 'Error of Static Estimation'"}], "mark": {"type": "line", "interpolate": "monotone", "clip": true}},
      {"transform": [{"filter": "datum.s === 'Error of Dynamic Estimation'"}], "mark": {"type": "line", "interpolate": "linear", "clip": true}}
     ]
    },
    {
     "mark": {"type": "line", "opacity": 0},
     "encoding": {
      "x": {"field": "t", "type": "quantitative", "axis": {"orient": "top", "values": [1,2,3,4,5], "labels": false, "title": null, "grid": false, "tickSize": -8}},
      "y": {"field": "v", "type": "quantitative", "axis": {"orient": "right", "values": [0], "labels": false, "title": null, "grid": false, "tickSize": -8}}
     }
    }
   ]
  }
 ]
}
